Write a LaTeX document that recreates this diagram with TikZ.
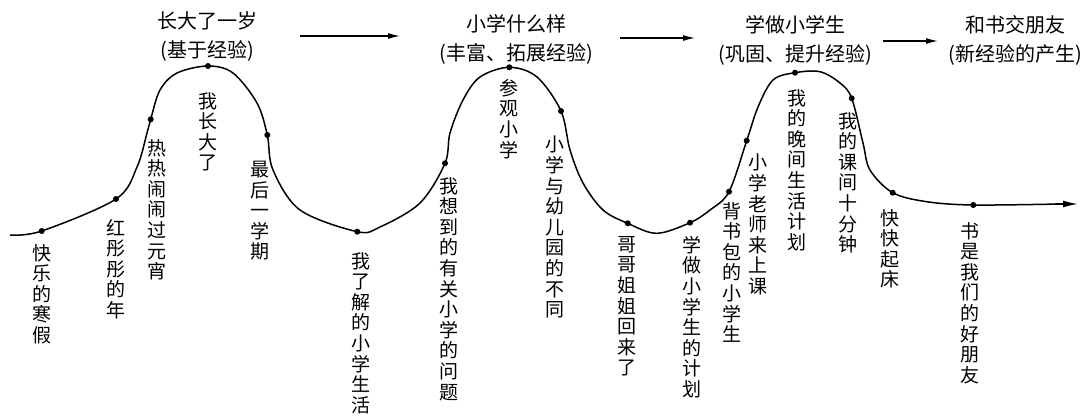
\documentclass[tikz,border=0pt]{standalone}
\usepackage{fontspec}
\setmainfont{Noto Sans CJK SC}
\usetikzlibrary{arrows.meta}
\tikzset{
  vlab/.style={anchor=north, inner sep=0pt, align=center, font=\fontsize{19}{20.6}\selectfont},
  head/.style={inner sep=0pt, align=center, font=\fontsize{20}{29}\selectfont},
  dotmark/.style={fill=black},
  curve/.style={line width=1.5pt},
  harrow/.style={line width=1.2pt, -{Latex[length=12pt,width=6pt]}},
}
\begin{document}
\begin{tikzpicture}[x=1pt,y=-1pt]
\useasboundingbox (0,0) rectangle (1089,418);
% dots on the curve
\coordinate (p0) at (10,235);
\coordinate (d1) at (41.7,231);
\coordinate (d2) at (116,199);
\coordinate (d3) at (150.7,119.3);
\coordinate (d4) at (208,66);
\coordinate (d5) at (267.3,135);
\coordinate (d6) at (357.3,231.7);
\coordinate (d7) at (445,163.3);
\coordinate (d8) at (509.3,67.3);
\coordinate (d9) at (561,111);
\coordinate (d10) at (627.7,223.3);
\coordinate (v) at (656.7,233.3);
\coordinate (d11) at (690,222.7);
\coordinate (d12) at (729,191.7);
\coordinate (d13) at (746.7,140.7);
\coordinate (d14) at (795,72.7);
\coordinate (d15) at (851.7,98.3);
\coordinate (d16) at (892.7,192.7);
\coordinate (d17) at (973.3,205);
\coordinate (pend) at (1078,204);
% main curve
\draw[curve] plot[smooth, tension=0.55] coordinates {
 (p0) (d1) (d2) (137,167) (147,133) (d3) (160,90) (177,73) (d4) (233,73) (257,103) (d5)
 (273,170) (300,210) (d6) (380,227) (420,203) (d7) (450,133) (463,100) (480,77) (d8)
 (537,77) (d9) (570,150) (583,183) (603,210) (d10) (v) (d11) (710,210) (d12) (d13)
 (758,107) (773,80) (d14) (820,71.7) (840,83) (d15) (863,143) (870,170) (d16)
 (926.7,201.7) (d17) (1060,204)};
\draw[curve, -{Latex[length=15pt,width=7pt]}] (1055,204) -- (pend);
\foreach \d in {d1,d2,d3,d4,d5,d6,d7,d8,d9,d10,d11,d12,d13,d14,d15,d16,d17}
  \fill[dotmark] (\d) circle (3pt);
% vertical labels
\node[vlab] (l1) at (42,244) {快\\乐\\的\\寒\\假};
\node[vlab] (l2) at (116,219) {红\\彤\\彤\\的\\年};
\node[vlab] (l3) at (157,139) {热\\热\\闹\\闹\\过\\元\\宵};
\node[vlab] (l4) at (208,92) {我\\长\\大\\了};
\node[vlab] (l5) at (260,161) {最\\后\\一\\学\\期};
\node[vlab] (l6) at (361,252) {我\\了\\解\\的\\小\\学\\生\\活};
\node[vlab] (l7) at (449,177) {我\\想\\到\\的\\有\\关\\小\\学\\的\\问\\题};
\node[vlab] (l8) at (509,79) {参\\观\\小\\学};
\node[vlab] (l9) at (555,136) {小\\学\\与\\幼\\儿\\园\\的\\不\\同};
\node[vlab] (l10) at (627,236) {哥\\哥\\姐\\姐\\回\\来\\了};
\node[vlab] (l11) at (692,236) {学\\做\\小\\学\\生\\的\\计\\划};
\node[vlab] (l12) at (732,202) {背\\书\\包\\的\\小\\学\\生};
\node[vlab] (l13) at (758,154) {小\\学\\老\\师\\来\\上\\课};
\node[vlab] (l14) at (797,89) {我\\的\\晚\\间\\生\\活\\计\\划};
\node[vlab] (l15) at (848,112) {我\\的\\课\\间\\十\\分\\钟};
\node[vlab] (l16) at (890,209) {快\\快\\起\\床};
\node[vlab] (l17) at (970,222) {书\\是\\我\\们\\的\\好\\朋\\友};
% headers
\node[head] (h1) at (207,37) {长大了一岁\\(基于经验)};
\node[head] (h2) at (516,39) {小学什么样\\(丰富、拓展经验)};
\node[head] (h3) at (795,40) {学做小学生\\(巩固、提升经验)};
\node[head] (h4) at (1015,40.5) {和书交朋友\\(新经验的产生)};
% header arrows
\coordinate (a1s) at (300,36); \coordinate (a1e) at (400,36);
\coordinate (a2s) at (620,38); \coordinate (a2e) at (695,38);
\coordinate (a3s) at (883,41); \coordinate (a3e) at (938,41);
\draw[harrow] (a1s) -- (a1e);
\draw[harrow] (a2s) -- (a2e);
\draw[harrow] (a3s) -- (a3e);
\end{tikzpicture}
\end{document}
